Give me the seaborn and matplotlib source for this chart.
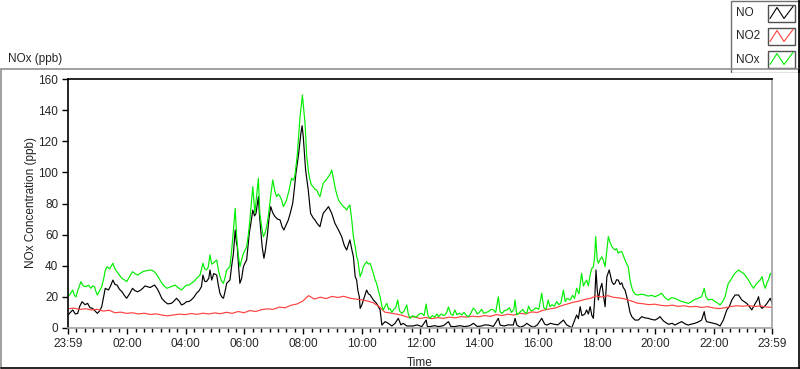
import numpy as np
import pandas as pd
import seaborn as sns
import matplotlib
matplotlib.use("Agg")
import matplotlib.pyplot as plt
from matplotlib.lines import Line2D
from matplotlib.patches import Rectangle

# ---------------- data (hours after 23:59 of previous day, ppb) ----------------
NO_HOURS = [0, 0.08, 0.16, 0.25, 0.33, 0.4, 0.48, 0.58, 0.67, 0.75, 0.84, 0.92, 1.0, 1.08, 1.15, 1.27, 1.38, 1.45,
            1.53, 1.6, 1.67, 1.75, 1.84, 1.92, 2.0, 2.1, 2.2, 2.28, 2.37, 2.45, 2.55, 2.62, 2.7, 2.8, 2.95, 3.05, 3.12,
            3.2, 3.3, 3.4, 3.52, 3.6, 3.7, 3.8, 3.87, 3.95, 4.04, 4.12, 4.2, 4.3, 4.38, 4.47, 4.55, 4.6, 4.66, 4.72,
            4.8, 4.84, 4.9, 4.97, 5.07, 5.12, 5.18, 5.24, 5.3, 5.36, 5.41, 5.52, 5.58, 5.64, 5.7, 5.74, 5.77, 5.82,
            5.86, 5.92, 5.98, 6.04, 6.09, 6.18, 6.24, 6.3, 6.36, 6.41, 6.49, 6.53, 6.57, 6.62, 6.68, 6.73, 6.79, 6.85,
            6.91, 6.98, 7.06, 7.14, 7.23, 7.3, 7.36, 7.43, 7.51, 7.58, 7.66, 7.72, 7.77, 7.85, 7.94, 7.98, 8.02, 8.06,
            8.1, 8.19, 8.27, 8.35, 8.42, 8.5, 8.59, 8.65, 8.7, 8.8, 8.88, 8.99, 9.1, 9.22, 9.33, 9.42, 9.5, 9.61,
            9.68, 9.73, 9.79, 9.84, 9.88, 9.93, 9.96, 10.02, 10.07, 10.18, 10.24, 10.3, 10.41, 10.52, 10.64, 10.7,
            10.81, 10.92, 11.04, 11.15, 11.26, 11.35, 11.43, 11.55, 11.77, 11.9, 12.06, 12.21, 12.25, 12.34, 12.5,
            12.63, 12.8, 12.97, 13.05, 13.19, 13.35, 13.53, 13.7, 13.82, 13.95, 14.1, 14.2, 14.33, 14.5, 14.67,
            14.73, 14.87, 15.0, 15.18, 15.24, 15.3, 15.41, 15.55, 15.64, 15.75, 15.87, 16.0, 16.15, 16.25, 16.32,
            16.45, 16.55, 16.7, 16.89, 17.0, 17.1, 17.17, 17.25, 17.34, 17.4, 17.46, 17.52, 17.57, 17.62, 17.68,
            17.74, 17.8, 17.86, 17.91, 17.96, 18.0, 18.04, 18.08, 18.14, 18.2, 18.26, 18.31, 18.37, 18.45, 18.54,
            18.6, 18.65, 18.7, 18.76, 18.82, 18.88, 18.93, 18.99, 19.05, 19.1, 19.16, 19.22, 19.33, 19.44, 19.56,
            19.67, 19.78, 19.9, 20.01, 20.1, 20.18, 20.3, 20.47, 20.6, 20.69, 20.8, 20.92, 21.05, 21.15, 21.25,
            21.37, 21.5, 21.6, 21.69, 21.73, 21.77, 21.9, 22.0, 22.12, 22.23, 22.34, 22.46, 22.55, 22.63, 22.74,
            22.86, 22.97, 23.05, 23.14, 23.22, 23.31, 23.43, 23.5, 23.54, 23.6, 23.66, 23.75, 23.83, 23.94, 24.0]
NO_VALUES = [8.4, 10, 11.6, 9, 9.4, 14, 16.9, 15, 15.8, 13, 12.6, 11, 9.4, 11, 13.7, 25.5, 24.4, 27,
             30.8, 28, 27.6, 25, 23.3, 21, 19.1, 22, 25.5, 24, 23.3, 24, 25.5, 27, 26.6, 26, 27.6, 25, 22.3,
             19, 16.9, 15.5, 15.8, 17, 19.1, 17, 14.8, 15.5, 16.9, 17, 18, 20, 22.3, 24, 26.6, 34, 30, 29.8,
             32, 37.3, 30.8, 35, 34, 28, 22.3, 20, 19.1, 24, 28.7, 30.8, 40, 48, 63, 55, 52.3, 38,
             28.7, 32, 39.4, 42, 43.7, 60.9, 68, 75.8, 72, 73.7, 84.4, 72, 63, 52, 44.8, 50, 58.7, 70,
             78, 74, 71.5, 70, 69.4, 65, 63, 66, 69.4, 74, 80.1, 90, 99.4, 110.1, 125.1, 130, 123, 112,
             101.5, 88.7, 73.7, 71, 69.4, 67, 65.1, 70, 73.7, 76, 78, 73.7, 67.3, 63, 58.7, 53, 50.1, 56.6,
             50, 45.8, 33, 30.8, 24.4, 20.1, 12.6, 15, 18, 24.4, 22, 21.2, 18, 15.8, 11.6, 1.9,
             4.1, 3, 1.3, 3, 6.2, 2, 3, 1.3, 1.3, 2, 0.9, 5.1, 1, 0.9, 1.5,
             0.9, 1.5, 4.1, 1, 0.9, 1.5, 0.9, 1.5, 3, 1, 1.3, 2, 1.9, 1, 6.2,
             1.9, 1.3, 2, 1.9, 6.2, 2, 0.5, 1.5, 3, 1.5, 0.5, 2, 6.2, 2.5, 1.9,
             3, 2.5, 2, 5.1, 2, 1, 0, 4, 8.4, 6, 13.7, 8, 8.4, 9, 11.6,
             9, 13.7, 8, 6.2, 20, 37.3, 25, 18, 25, 28.7, 20, 13.7, 33, 37.3, 29.8,
             28, 28.7, 31, 30.8, 28, 29, 26, 24.4, 20, 15.8, 10, 7.3, 5.1, 5.1, 7.3,
             6.5, 6.2, 5.5, 5.1, 6, 7.3, 4.5, 2.4, 3, 1.9, 3, 4.1, 2.5, 1.9, 2.5,
             3, 4, 5.1, 10.5, 6, 4.1, 3.5, 3, 2.5, 1.3, 5.1, 11.6, 14, 18, 21.2,
             21.2, 18, 17, 15.8, 14, 11.6, 15.8, 18, 20.1, 14, 12.6, 14, 15.8, 19.1, 16]

NO2_HOURS = [round(i * 0.2, 1) for i in range(121)]
NO2_VALUES = [12.3, 12.8, 11.9, 12.4, 11.6, 12.0, 10.9, 11.4, 9.8, 10.2, 9.4, 9.8, 9.0, 9.5, 8.7, 9.1, 8.3,
              7.8, 8.4, 8.9, 8.6, 9.3, 8.8, 9.5, 9.0, 9.7, 9.2, 10.1, 9.4, 10.6, 9.8, 11.2, 10.6, 11.8,
              12.3, 12.0, 13.4, 13.0, 14.6, 15.4, 17.2, 20.8, 18.6, 19.8, 18.9, 20.3, 19.6, 20.4, 19.2,
              18.6, 18.1, 17.4, 16.3, 13.8, 10.2, 9.6, 8.9, 8.1, 6.8, 7.2, 6.1, 6.8, 6.0, 6.7, 6.2, 7.0,
              6.5, 7.3, 7.0, 7.6, 7.2, 8.0, 7.5, 8.6, 8.0, 8.9, 8.3, 9.4, 9.0, 10.3, 10.0, 11.4, 12.2,
              12.8, 14.2, 15.3, 16.4, 17.2, 18.3, 19.0, 20.6, 19.9, 20.8, 19.7, 19.3, 18.6, 17.4, 16.0,
              15.6, 15.0, 15.3, 14.6, 14.2, 14.7, 13.9, 14.3, 13.6, 13.9, 13.2, 13.7, 12.9, 12.5, 13.0,
              13.8, 14.3, 14.0, 14.4, 13.8, 14.2, 13.5, 13.3]

NOX_HOURS = [0, 0.08, 0.16, 0.22, 0.27, 0.35, 0.44, 0.52, 0.61, 0.7, 0.78, 0.84, 0.9, 0.96, 1.0, 1.08, 1.15,
             1.22, 1.27, 1.33, 1.42, 1.53, 1.6, 1.67, 1.75, 1.84, 1.92, 2.0, 2.1, 2.2, 2.28, 2.37, 2.45, 2.55,
             2.7, 2.83, 2.92, 3.0, 3.1, 3.2, 3.28, 3.37, 3.5, 3.65, 3.75, 3.87, 3.95, 4.04, 4.12, 4.2, 4.3, 4.38,
             4.45, 4.5, 4.6, 4.66, 4.72, 4.78, 4.84, 4.9, 4.97, 5.07, 5.12, 5.18, 5.24, 5.3, 5.36, 5.41, 5.52,
             5.58, 5.64, 5.7, 5.75, 5.8, 5.86, 5.92, 5.98, 6.04, 6.09, 6.15, 6.2, 6.25, 6.3, 6.37, 6.43, 6.49,
             6.54, 6.6, 6.66, 6.72, 6.77, 6.83, 6.88, 6.93, 6.98, 7.05, 7.11, 7.17, 7.23, 7.29, 7.34, 7.4, 7.45,
             7.53, 7.62, 7.68, 7.73, 7.78, 7.82, 7.87, 7.91, 7.96, 7.99, 8.04, 8.08, 8.14, 8.2, 8.25, 8.3, 8.36,
             8.42, 8.48, 8.54, 8.59, 8.65, 8.7, 8.79, 8.88, 8.94, 8.99, 9.05, 9.1, 9.16, 9.22, 9.3, 9.39, 9.45,
             9.5, 9.56, 9.61, 9.67, 9.73, 9.79, 9.84, 9.88, 9.92, 9.96, 10.02, 10.07, 10.12, 10.18, 10.24, 10.3,
             10.36, 10.41, 10.47, 10.52, 10.58, 10.64, 10.7, 10.75, 10.81, 10.87, 10.93, 10.98, 11.04, 11.09,
             11.17, 11.24, 11.3, 11.38, 11.46, 11.55, 11.6, 11.66, 11.75, 11.83, 11.89, 11.97, 12.06, 12.14,
             12.21, 12.27, 12.34, 12.42, 12.5, 12.58, 12.63, 12.72, 12.8, 12.85, 12.91, 12.97, 13.05, 13.12,
             13.19, 13.26, 13.34, 13.42, 13.5, 13.58, 13.65, 13.72, 13.82, 13.88, 13.95, 14.02, 14.1, 14.18,
             14.26, 14.33, 14.42, 14.5, 14.58, 14.67, 14.73, 14.8, 14.87, 14.96, 15.05, 15.12, 15.2, 15.24,
             15.3, 15.4, 15.5, 15.57, 15.64, 15.7, 15.78, 15.87, 15.95, 16.05, 16.15, 16.22, 16.3, 16.37,
             16.43, 16.5, 16.58, 16.66, 16.73, 16.8, 16.89, 16.95, 17.02, 17.12, 17.2, 17.27, 17.34, 17.42,
             17.51, 17.57, 17.62, 17.68, 17.74, 17.8, 17.85, 17.91, 17.95, 17.99, 18.04, 18.08, 18.14, 18.2,
             18.26, 18.31, 18.37, 18.42, 18.48, 18.54, 18.6, 18.65, 18.7, 18.76, 18.82, 18.88, 18.94, 18.99,
             19.05, 19.1, 19.16, 19.22, 19.27, 19.35, 19.44, 19.55, 19.67, 19.78, 19.9, 20.01, 20.12, 20.24,
             20.35, 20.47, 20.58, 20.69, 20.8, 20.92, 21.03, 21.15, 21.26, 21.37, 21.48, 21.6, 21.65, 21.69,
             21.75, 21.83, 21.95, 22.06, 22.15, 22.23, 22.32, 22.4, 22.46, 22.51, 22.6, 22.69, 22.78, 22.86,
             22.95, 23.03, 23.12, 23.2, 23.28, 23.37, 23.45, 23.54, 23.6, 23.66, 23.72, 23.77, 23.83, 23.88,
             23.94, 24.0]
NOX_VALUES = [20.1, 22, 24.4, 21, 20, 25, 29.8, 27, 26.6, 27.5, 25.5, 27, 26.6, 23, 21.2, 24, 26.6,
              32, 37, 39.4, 38, 41.6, 38, 36.2, 34, 31.9, 31, 29.8, 33, 36.2, 35, 34, 35, 36.2,
              37, 37.3, 36.5, 35, 32, 28.7, 27, 25.5, 26.5, 27.6, 26, 24.4, 26, 27.6, 27.5, 28.7, 30, 31.9,
              33, 34, 41.6, 38, 37.3, 39, 47, 41, 42, 43.7, 38, 33, 30, 28.7, 33, 37.3, 39.4,
              50, 63, 76.9, 58.7, 48, 39.4, 44, 48, 50, 52.3, 60, 69.4, 80, 90.8, 73.7, 85, 96.2,
              73.7, 65, 58.7, 61, 65.1, 72, 80.1, 88, 95.1, 88, 84.4, 86, 84.4, 82, 78, 80, 82.3,
              88, 96.2, 95, 97.3, 105, 112.3, 125, 135.8, 144, 149.7, 140, 131.6, 110.1, 100, 95.1, 92, 90.8,
              89, 88.7, 86, 84.4, 89, 93, 95, 97.3, 99, 101.5, 96, 90.8, 86, 82.3, 80, 78, 77,
              75.8, 78, 79.1, 70, 58.7, 52.3, 46, 43.7, 38, 33, 36, 39.4, 41, 42.6, 41, 41.6,
              38, 35.1, 31, 28.7, 24, 20.1, 14, 11.6, 14, 15.8, 12, 12.6, 10, 11.6,
              13, 18, 11, 9.4, 11, 14.8, 9, 6.2, 8, 7, 7.3, 9, 9.4, 8,
              15.4, 8, 6.2, 8, 7, 9, 7.3, 9, 8, 8.4, 10, 13.5, 9, 8,
              11.6, 8.5, 9.5, 8.4, 10, 8, 7.3, 9, 12.8, 11.6, 9, 10, 12, 9.4,
              10, 10.5, 12, 11.6, 10, 20.1, 10.5, 9.4, 11, 11.6, 13, 10, 12, 18,
              8.4, 10, 12, 10, 9.4, 14, 11, 11.6, 13, 12, 22.3, 13, 12, 18,
              13.7, 15, 14, 17, 15, 16, 24.4, 17, 19, 18, 21, 19, 25.5, 22,
              35.1, 27, 29, 30.8, 27, 34, 38, 39.4, 45, 58.7, 44, 41.6, 44, 45.8,
              43, 39.4, 50, 58.7, 55, 52.3, 51, 50.1, 51, 48, 49, 49, 46, 43.7,
              41, 39.4, 30.8, 26, 23.3, 21.5, 21.2, 21.8, 21.2, 20.5, 21, 20.1, 21, 22.3,
              19.5, 18, 19.5, 19.1, 18, 17, 16.5, 15.8, 17, 18.4, 19, 20.1, 23, 25.5,
              20, 18, 18.5, 17, 16, 14.8, 17, 20.1, 25, 28.7, 31, 34, 36, 37.3,
              36, 35.1, 33, 30.8, 28, 25.5, 28, 29.8, 31, 33, 28, 25.5, 29, 31,
              35, 34]

SERIES = ["NO", "NO2", "NOx"]
COLORS = {"NO": "#000000", "NO2": "#ff4040", "NOx": "#00ee00"}
Y_TICKS = [0, 20, 40, 60, 80, 100, 120, 140, 160]
X_TICK_HOURS = [0, 2 + 1/60, 4 + 1/60, 6 + 1/60, 8 + 1/60, 10 + 1/60, 12 + 1/60, 14 + 1/60,
                16 + 1/60, 18 + 1/60, 20 + 1/60, 22 + 1/60, 24]
X_TICK_LABELS = ["23:59", "02:00", "04:00", "06:00", "08:00", "10:00", "12:00", "14:00",
                 "16:00", "18:00", "20:00", "22:00", "23:59"]

df = pd.concat([
    pd.DataFrame({"hour": NO_HOURS, "ppb": NO_VALUES, "series": "NO"}),
    pd.DataFrame({"hour": NO2_HOURS, "ppb": NO2_VALUES, "series": "NO2"}),
    pd.DataFrame({"hour": NOX_HOURS, "ppb": NOX_VALUES, "series": "NOx"}),
], ignore_index=True)

# ---------------- style ----------------
sns.set_style("white")
plt.rcParams["font.family"] = ["Liberation Sans", "DejaVu Sans"]
plt.rcParams["font.size"] = 8.5

fig = plt.figure(figsize=(8.0, 3.69), dpi=100)
fig.patch.set_facecolor("white")
W, H = 800.0, 369.0

ax = fig.add_axes([68 / W, 1 - 328 / H, (772 - 68) / W, (328 - 79) / H])
sns.lineplot(data=df, x="hour", y="ppb", hue="series", hue_order=SERIES, palette=COLORS,
             estimator=None, sort=False, linewidth=0.85, legend=False, ax=ax)

ax.set_xlim(0, 24)
ax.set_ylim(0, 160)
ax.set_yticks(Y_TICKS)
ax.set_yticklabels([str(v) for v in Y_TICKS])
ax.set_xticks(X_TICK_HOURS)
ax.set_xticklabels(X_TICK_LABELS)
minors = []
for a, b in zip(X_TICK_HOURS[:-1], X_TICK_HOURS[1:]):
    for k in range(1, 7):
        minors.append(a + (b - a) * k / 7)
ax.set_xticks(minors, minor=True)
ax.tick_params(axis="both", which="major", direction="out", length=4, width=1, color="black",
               labelsize=8.5, pad=3, bottom=True, left=True)
ax.tick_params(axis="x", which="minor", direction="out", length=3, width=1, color="black", bottom=True)
ax.set_xlabel("Time", fontsize=8.5, labelpad=5)
ax.set_ylabel("")
for side in ["top", "left"]:
    ax.spines[side].set_color("black")
    ax.spines[side].set_linewidth(1.2)
for side in ["bottom", "right"]:
    ax.spines[side].set_color("#a0a0a0")
    ax.spines[side].set_linewidth(1.2)

fig.text(31 / W, 1 - 203 / H, "NOx Concentration (ppb)", rotation=90, ha="center", va="center",
         fontsize=8.5, color="#202020")
fig.text(8 / W, 1 - 59 / H, "NOx (ppb)", ha="left", va="center", fontsize=8.5)

# outer panel frame
fig.add_artist(Line2D([0.5 / W, 799 / W], [1 - 69 / H, 1 - 69 / H], color="#909090", lw=1.2))
fig.add_artist(Line2D([0.8 / W, 0.8 / W], [1 - 69 / H, 1 - 367.5 / H], color="#909090", lw=1.2))
fig.add_artist(Line2D([0.5 / W, 799.5 / W], [1 - 367.5 / H, 1 - 367.5 / H], color="black", lw=1.2))
fig.add_artist(Line2D([799.2 / W, 799.2 / W], [1 - 69 / H, 1 - 367.5 / H], color="black", lw=1.2))

# legend box
lax = fig.add_axes([730 / W, 1 - 73 / H, 70 / W, 73 / H])
lax.set_xlim(730, 800)
lax.set_ylim(73, 0)
lax.axis("off")
lax.add_patch(Rectangle((730.5, 0.5), 68.8, 72, fill=True, facecolor="white", edgecolor="#707070", lw=1.0))
lax.plot([799.3, 799.3], [0, 73], color="black", lw=1.2)
rows = [(13, 4.5, 21.5), (36, 27.5, 44.5), (60, 50.5, 67.5)]
for name, (ty, y0, y1) in zip(SERIES, rows):
    lax.text(736, ty, name, ha="left", va="center", fontsize=8.5)
    lax.add_patch(Rectangle((768, y0), 27, y1 - y0, fill=True, facecolor="white",
                            edgecolor="#505050", lw=1.0))
    xs = [770, 777, 784, 793]
    ys = [y1 - 3, y0 + 3, y1 - 3, y0 + 2]
    lax.plot(xs, ys, color=COLORS[name], lw=0.8)

fig.savefig("out.png", dpi=100, facecolor="white")
